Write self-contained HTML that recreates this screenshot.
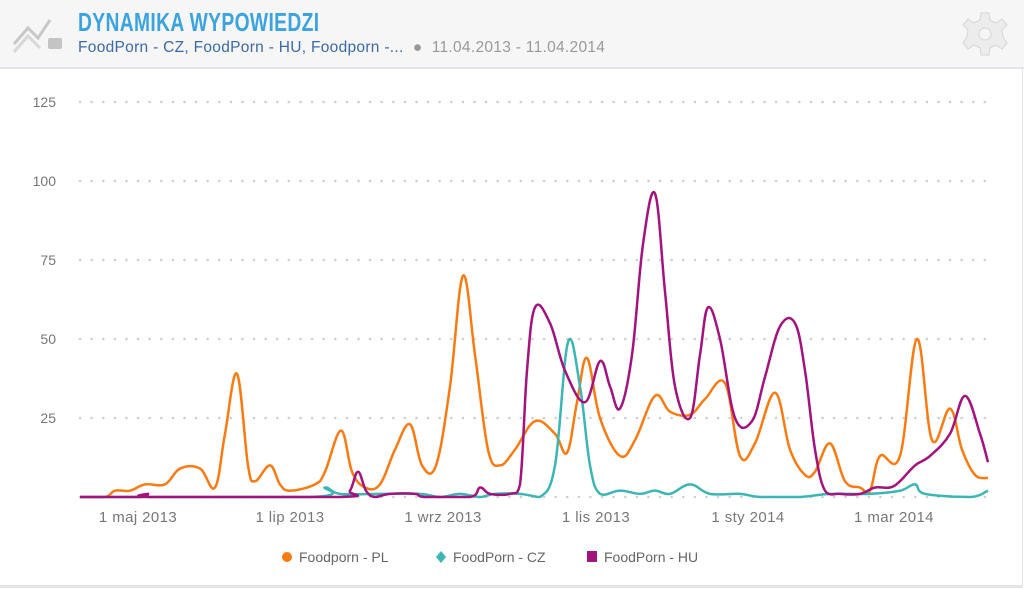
<!DOCTYPE html>
<html><head><meta charset="utf-8"><style>
html,body{margin:0;padding:0;background:#fff;}
body{width:1024px;height:589px;position:relative;overflow:hidden;font-family:"Liberation Sans",sans-serif;}
.hdr{position:absolute;left:0;top:0;width:1024px;height:67px;background:#f6f6f6;border-bottom:2px solid #e2e4ea;}
.title{position:absolute;left:78px;top:7px;font-size:26px;font-weight:bold;color:#3aa3e0;letter-spacing:0.5px;transform:scaleX(0.74);transform-origin:left top;}
.sub{position:absolute;left:78px;top:39px;font-size:15.5px;color:#3b6aa8;white-space:nowrap;letter-spacing:0.3px;}
.sub span{color:#999;}
.card{position:absolute;left:0;top:69px;width:1022px;height:516px;border-right:1px solid #e5e5e5;border-bottom:3px solid #e3e5ea;}
</style></head><body>
<div class="hdr">
<svg style="position:absolute;left:10px;top:12px" width="56" height="44" viewBox="0 0 56 44">
<path d="M4 32 L18 16 L28 26 L40 8" stroke="#c8c8c8" stroke-width="3" fill="none"/>
<path d="M4 40 L18 24 L30 36" stroke="#d8d8d8" stroke-width="3" fill="none"/>
<rect x="38" y="26" width="14" height="11" rx="2" fill="#c4c4c4"/>
</svg>
<div class="title">DYNAMIKA WYPOWIEDZI</div>
<div class="sub">FoodPorn - CZ, FoodPorn - HU, Foodporn -... <span>&nbsp;●&nbsp; 11.04.2013 - 11.04.2014</span></div>
<svg style="position:absolute;left:962px;top:11px" width="46" height="46" viewBox="-23 -23 46 46">
<g fill="#ececec" stroke="#d6d6d6" stroke-width="1">
<path d="M-4 -21 L4 -21 L5 -14 L11 -11 L17 -15 L22 -9 L17 -4 L18 3 L22 9 L17 15 L11 11 L5 14 L4 21 L-4 21 L-5 14 L-11 11 L-17 15 L-22 9 L-18 3 L-17 -4 L-22 -9 L-17 -15 L-11 -11 L-5 -14 Z"/>
</g>
<circle r="6" fill="#f6f6f6" stroke="#d6d6d6"/>
</svg>
</div>
<div class="card"></div>
<svg id="c" style="position:absolute;left:0;top:0" width="1024" height="589">
<g stroke="#cfcfcf" stroke-width="2.5" stroke-dasharray="0.1 11.5" stroke-linecap="round">
<line x1="80" x2="990" y1="102" y2="102"/><line x1="80" x2="990" y1="181" y2="181"/>
<line x1="80" x2="990" y1="260" y2="260"/><line x1="80" x2="990" y1="339" y2="339"/>
<line x1="80" x2="990" y1="418" y2="418"/><line x1="80" x2="990" y1="497" y2="497"/>
</g>
<g font-size="14" fill="#777" text-anchor="end">
<text x="56" y="107">125</text><text x="56" y="186">100</text><text x="56" y="265">75</text>
<text x="56" y="344">50</text><text x="56" y="423">25</text>
</g>
<g font-size="15" fill="#777" text-anchor="middle" letter-spacing="0.4">
<text x="138" y="522">1 maj 2013</text><text x="290" y="522">1 lip 2013</text>
<text x="443" y="522">1 wrz 2013</text><text x="596" y="522">1 lis 2013</text>
<text x="748" y="522">1 sty 2014</text><text x="894" y="522">1 mar 2014</text>
</g>
<g font-size="14" fill="#666">
<circle cx="287" cy="557" r="5" fill="#fb7a12"/><text x="299" y="562">Foodporn - PL</text>
<path d="M441 551 L446 557 L441 563 L436 557Z" fill="#3cb6b4"/><text x="453" y="562">FoodPorn - CZ</text>
<rect x="587" y="551" width="10" height="11" fill="#a3137d"/><text x="604" y="562">FoodPorn - HU</text>
</g>
<g id="lines" fill="none" stroke-width="2.5" stroke-linejoin="round"></g>
</svg>
<script>
var PL=[[80,0],[105,0],[115,2],[130,2],[145,4],[165,4],[180,9],[200,9],[215,3],[225,20],[237,39],[248,10],[255,5],[270,10],[280,4],[290,2],[315,4],[325,8],[341,21],[352,8],[365,3],[380,4],[395,15],[410,23],[422,10],[436,10],[450,35],[463,70],[475,45],[488,15],[500,10],[515,15],[535,24],[555,20],[567,14],[577,30],[587,44],[600,25],[620,13],[635,18],[655,32],[670,27],[690,26],[705,31],[725,36],[740,13],[755,17],[775,33],[790,15],[805,7],[815,8],[830,17],[845,5],[860,3],[870,2],[880,13],[900,13],[917,50],[932,18],[950,28],[962,15],[975,7],[988,6]];
var CZ=[[80,0],[310,0],[325,3],[340,1],[380,1],[420,1],[440,0],[460,1],[480,0],[495,1],[520,1],[540,0],[555,10],[568,49],[580,35],[590,10],[600,1],[620,2],[640,1],[655,2],[670,1],[690,4],[710,1],[740,1],[760,0],[800,0],[830,1],[870,1],[900,2],[915,4],[925,1],[970,0],[988,2]];
var HU=[[80,0],[140,0],[148,1],[155,0],[340,0],[350,2],[358,8],[366,2],[375,0],[390,1],[415,1],[425,0],[470,0],[480,3],[490,1],[510,1],[520,4],[527,40],[535,60],[550,55],[565,40],[585,30],[600,43],[610,35],[620,28],[632,45],[643,80],[655,96],[665,65],[675,35],[690,25],[700,45],[708,60],[720,50],[735,25],[752,24],[765,38],[780,54],[795,55],[805,40],[815,15],[825,2],[840,1],[860,1],[875,3],[890,3],[900,5],[915,10],[930,13],[950,20],[965,32],[980,20],[988,11]];
function path(d){var p=d.map(function(a){return[a[0],497-a[1]*3.16]});var s="M"+p[0][0]+" "+p[0][1];
for(var i=0;i<p.length-1;i++){var p0=p[i-1]||p[i],p1=p[i],p2=p[i+1],p3=p[i+2]||p2,t=0.18;
var c1x=p1[0]+(p2[0]-p0[0])*t,c1y=p1[1]+(p2[1]-p0[1])*t,c2x=p2[0]-(p3[0]-p1[0])*t,c2y=p2[1]-(p3[1]-p1[1])*t;
c1y=Math.min(c1y,497);c2y=Math.min(c2y,497);
s+=" C"+c1x+" "+c1y+" "+c2x+" "+c2y+" "+p2[0]+" "+p2[1];}return s;}
var g=document.getElementById("lines"),ns="http://www.w3.org/2000/svg";
[[PL,"#fb7a12"],[CZ,"#3cb6b4"],[HU,"#a3137d"]].forEach(function(x){var e=document.createElementNS(ns,"path");e.setAttribute("d",path(x[0]));e.setAttribute("stroke",x[1]);g.appendChild(e);});
</script>
</body></html>
